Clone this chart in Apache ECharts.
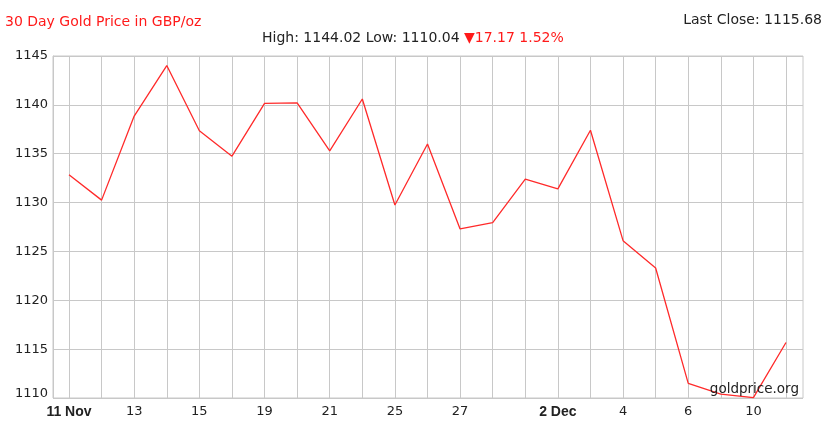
<!DOCTYPE html>
<html><head><meta charset="utf-8">
<script src="https://cdn.jsdelivr.net/npm/echarts@6/dist/echarts.min.js"></script>
<style>html,body{margin:0;padding:0;background:#fff}#c{width:837px;height:430px}</style>
</head><body><div id="c"></div>
<script>
const categories = ['11 Nov','12','13','14','15','18','19','20','21','22','25','26','27','28','29','2 Dec','3','4','5','6','9','10','11'];
const prices = [1132.85,1130.25,1138.85,1144.02,1137.35,1134.75,1140.15,1140.2,1135.3,1140.6,1129.75,1136.0,1127.3,1127.95,1132.4,1131.4,1137.4,1126.1,1123.3,1111.5,1110.4,1110.04,1115.68];
const shownLabels = [0,2,4,6,8,10,12,15,17,19,21];
const boldLabels = ['11 Nov','2 Dec'];
const yTicks = {min:1110, max:1145, step:5};

const chart = echarts.init(document.getElementById('c'), null, {renderer:'canvas'});
const FONT = 'DejaVu Sans';
chart.setOption({
  animation:false,
  backgroundColor:'#fff',
  grid:[
    {left:53, right:34, top:56, bottom:32, show:true, borderColor:'#c8c8c8', borderWidth:1},
    {left:69, right:51, top:56, bottom:32}
  ],
  xAxis:[
    {gridIndex:0, type:'value', min:0, max:1, show:false},
    {gridIndex:1, type:'category', data:categories, boundaryGap:false,
      axisLine:{show:false}, axisTick:{show:false},
      splitLine:{show:true, interval:0, lineStyle:{color:'#c8c8c8', width:1}},
      axisLabel:{interval:(i)=>shownLabels.includes(i), margin:7, fontFamily:FONT, fontSize:13, color:'#222',
        formatter:(v)=> boldLabels.includes(v) ? '{b|'+v+'}' : v,
        rich:{b:{fontFamily:'Liberation Sans', fontWeight:'bold', fontSize:14, color:'#222'}}}
    }
  ],
  yAxis:[
    {gridIndex:0, type:'value', min:yTicks.min, max:yTicks.max, interval:yTicks.step,
      axisLine:{show:true, lineStyle:{color:'#c8c8c8'}}, axisTick:{show:false},
      splitLine:{show:true, lineStyle:{color:'#c8c8c8', width:1}},
      axisLabel:{margin:5, fontFamily:FONT, fontSize:13, color:'#222',
        formatter:(v)=> v === yTicks.min ? '{lo|'+v+'}' : String(v),
        rich:{lo:{fontFamily:FONT, fontSize:13, color:'#222', padding:[0,0,8,0]}}}},
    {gridIndex:1, type:'value', min:yTicks.min, max:yTicks.max, show:false, splitLine:{show:false}}
  ],
  series:[{
    type:'line', xAxisIndex:1, yAxisIndex:1, data:prices, symbol:'none',
    lineStyle:{color:'#ff2a2a', width:1.3}, z:3
  }],
  graphic:[
    {type:'text', left:5, top:15, style:{text:'30 Day Gold Price in GBP/oz', fill:'#ff1a1a', font:'14px "DejaVu Sans"'}},
    {type:'text', right:15, top:13, style:{text:'Last Close: 1115.68', fill:'#222', font:'14px "DejaVu Sans"'}},
    {type:'text', left:262, top:31, style:{
      text:'{d|High: 1144.02 Low: 1110.04 }{r|▼17.17 1.52%}',
      rich:{d:{fill:'#222', font:'14px "DejaVu Sans"'}, r:{fill:'#ff1a1a', font:'14px "DejaVu Sans"'}}
    }},
    {type:'text', right:38, top:382, z:10, style:{text:'goldprice.org', fill:'#222', font:'13.5px "DejaVu Sans"'}}
  ]
});
</script>
</body></html>
